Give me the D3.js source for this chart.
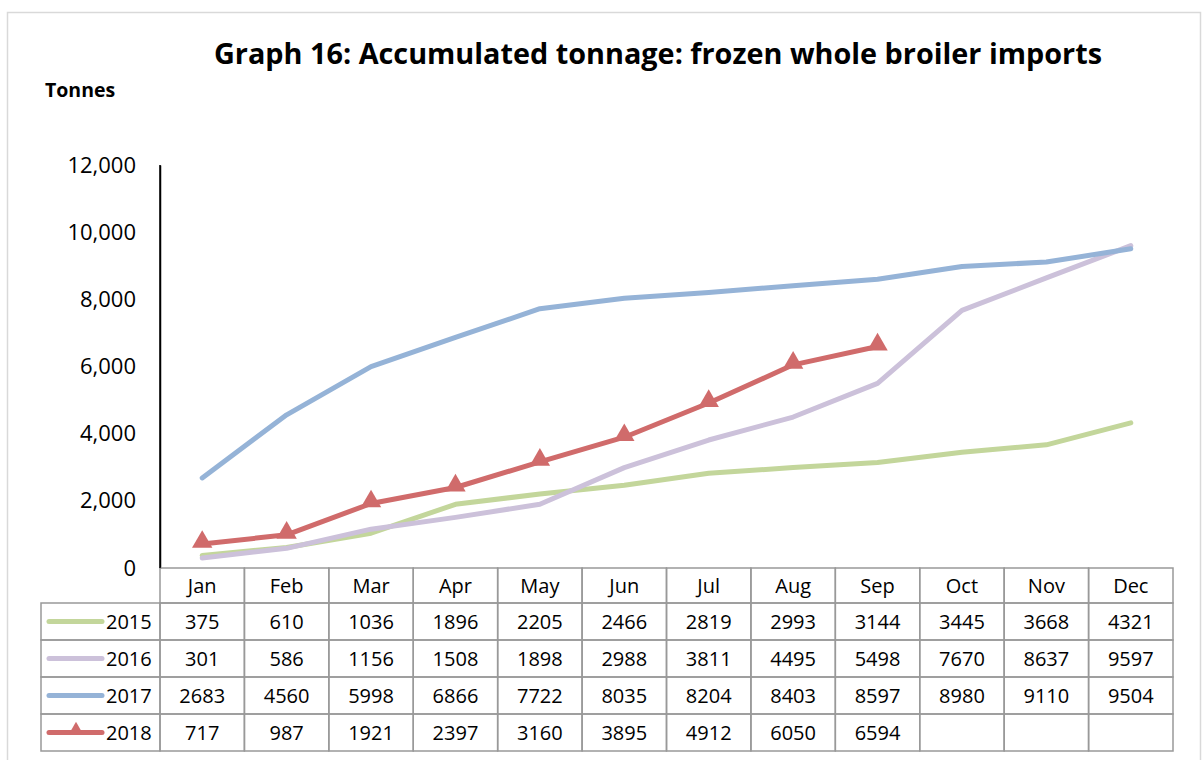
<!DOCTYPE html>
<html>
<head>
<meta charset="utf-8">
<script src="https://cdn.jsdelivr.net/npm/d3@7"></script>
<style>
  body { margin: 0; background: #fff; }
  text { font-family: 'Open Sans', sans-serif; fill: #000; }
</style>
</head>
<body>
<div id="chart"></div>
<script>
// data
const months = ['Jan', 'Feb', 'Mar', 'Apr', 'May', 'Jun', 'Jul', 'Aug', 'Sep', 'Oct', 'Nov', 'Dec']
const years = ['2015', '2016', '2017', '2018']
const v2015 = [375, 610, 1036, 1896, 2205, 2466, 2819, 2993, 3144, 3445, 3668, 4321]
const v2016 = [301, 586, 1156, 1508, 1898, 2988, 3811, 4495, 5498, 7670, 8637, 9597]
const v2017 = [2683, 4560, 5998, 6866, 7722, 8035, 8204, 8403, 8597, 8980, 9110, 9504]
const v2018 = [717, 987, 1921, 2397, 3160, 3895, 4912, 6050, 6594]
const yTicks = [0, 2000, 4000, 6000, 8000, 10000, 12000]

const seriesValues = [v2015, v2016, v2017, v2018]
const colors = ['#c3d69b', '#ccc1da', '#95b3d7', '#d06b6b']

const W = 1202, H = 760
const svg = d3.select('#chart').append('svg')
  .attr('width', W)
  .attr('height', H)

// outer frame
svg.append('rect')
  .attr('x', 7.5).attr('y', 12.5)
  .attr('width', 1193).attr('height', 760)
  .attr('fill', 'none')
  .attr('stroke', '#d9d9d9')
  .attr('stroke-width', 1.5)

// title
svg.append('text')
  .attr('x', 658).attr('y', 64)
  .attr('text-anchor', 'middle')
  .attr('font-size', 28.5)
  .attr('font-weight', 'bold')
  .attr('textLength', 888)
  .attr('lengthAdjust', 'spacingAndGlyphs')
  .text('Graph 16: Accumulated tonnage: frozen whole broiler imports')

svg.append('text')
  .attr('x', 45).attr('y', 97)
  .attr('font-size', 19.5)
  .attr('font-weight', 'bold')
  .text('Tonnes')

const left = 160, right = 1173
const x = d3.scaleBand().domain(months).range([left, right])
const y = d3.scaleLinear().domain([0, 12000]).range([568, 165])

// y axis
const yAxis = svg.append('g')
  .attr('transform', 'translate(' + left + ',0)')
  .call(d3.axisLeft(y).tickValues(yTicks).tickSize(0).tickPadding(24).tickFormat(d3.format(',')))
yAxis.select('.domain').attr('stroke', '#000').attr('stroke-width', 1.5)
yAxis.selectAll('text')
  .attr('font-size', 22)
  .attr('font-family', "'Open Sans', sans-serif")
  .attr('fill', '#000')

// lines
const line = d3.line()
  .x((d, i) => x(months[i]) + x.bandwidth() / 2)
  .y(d => y(d))

seriesValues.forEach((vals, s) => {
  svg.append('path')
    .datum(vals)
    .attr('d', line)
    .attr('fill', 'none')
    .attr('stroke', colors[s])
    .attr('stroke-width', 5)
    .attr('stroke-linejoin', 'round')
    .attr('stroke-linecap', 'round')
})

// 2018 triangle markers
const tri = d3.symbol().type(d3.symbolTriangle).size(180)
svg.append('g').selectAll('path')
  .data(v2018)
  .join('path')
  .attr('d', tri)
  .attr('fill', colors[3])
  .attr('transform', (d, i) => 'translate(' + (x(months[i]) + x.bandwidth() / 2) + ',' + (y(d) - 2) + ')')

// data table
const headTop = 568, headH = 35, rowH = 37
const legLeft = 41
const grid = '#999'
const tbl = svg.append('g')

// header cells
months.forEach(m => {
  tbl.append('rect')
    .attr('x', x(m)).attr('y', headTop)
    .attr('width', x.bandwidth()).attr('height', headH)
    .attr('fill', 'none').attr('stroke', grid).attr('stroke-width', 1.5)
  tbl.append('text')
    .attr('x', x(m) + x.bandwidth() / 2).attr('y', headTop + headH / 2 + 7)
    .attr('text-anchor', 'middle')
    .attr('font-size', 20)
    .text(m)
})

years.forEach((yr, r) => {
  const top = headTop + headH + r * rowH
  tbl.append('rect')
    .attr('x', legLeft).attr('y', top)
    .attr('width', left - legLeft).attr('height', rowH)
    .attr('fill', 'none').attr('stroke', grid).attr('stroke-width', 1.5)
  tbl.append('line')
    .attr('x1', 49).attr('x2', 102)
    .attr('y1', top + rowH / 2).attr('y2', top + rowH / 2)
    .attr('stroke', colors[r]).attr('stroke-width', 5)
    .attr('stroke-linecap', 'round')
  if (r === 3) {
    tbl.append('path')
      .attr('d', d3.symbol().type(d3.symbolTriangle).size(100))
      .attr('fill', colors[r])
      .attr('transform', 'translate(76,' + (top + rowH / 2 - 2) + ')')
  }
  tbl.append('text')
    .attr('x', 106).attr('y', top + rowH / 2 + 7)
    .attr('font-size', 20)
    .text(yr)
  months.forEach((m, i) => {
    tbl.append('rect')
      .attr('x', x(m)).attr('y', top)
      .attr('width', x.bandwidth()).attr('height', rowH)
      .attr('fill', 'none').attr('stroke', grid).attr('stroke-width', 1.5)
    const v = seriesValues[r][i]
    if (v !== undefined) {
      tbl.append('text')
        .attr('x', x(m) + x.bandwidth() / 2).attr('y', top + rowH / 2 + 7)
        .attr('text-anchor', 'middle')
        .attr('font-size', 20)
        .text(v)
    }
  })
})

// axis line drawn on top of the header border
svg.append('line')
  .attr('x1', left).attr('x2', left)
  .attr('y1', 165).attr('y2', 568)
  .attr('stroke', '#000').attr('stroke-width', 1.5)
</script>
</body>
</html>
